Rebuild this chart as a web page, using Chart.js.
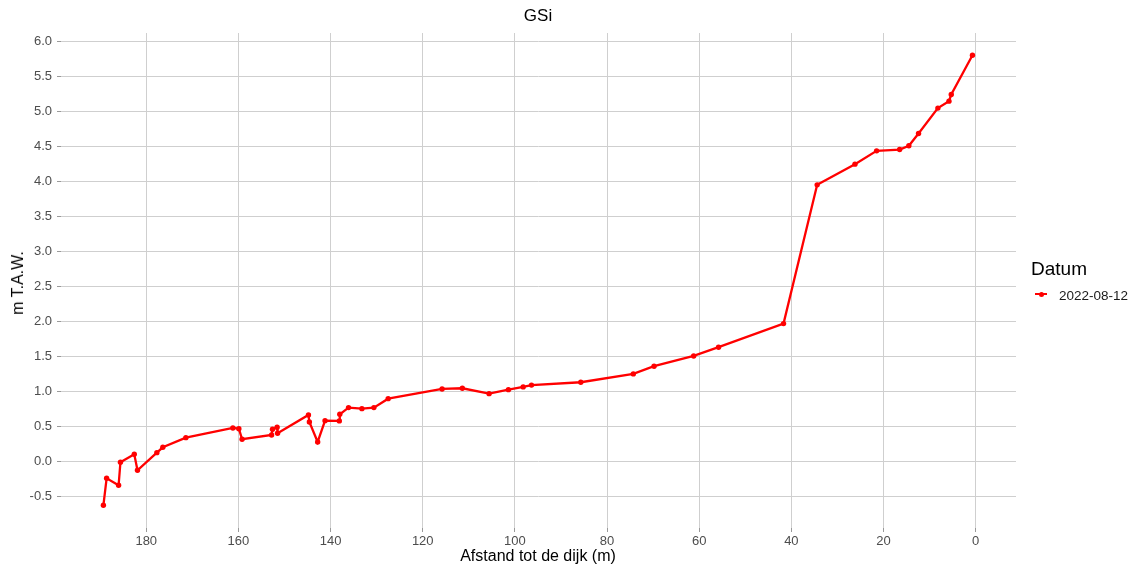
<!DOCTYPE html>
<html>
<head>
<meta charset="utf-8">
<title>GSi</title>
<script src="https://cdn.jsdelivr.net/npm/chart.js@4/dist/chart.umd.min.js"></script>
<style>
  html, body { margin: 0; padding: 0; background: #ffffff; }
  #wrap { position: relative; width: 1135px; height: 572px; font-family: "Liberation Sans", Arial, sans-serif; }
  #plot { position: absolute; left: 0; top: 0; }
  .lbl { position: absolute; white-space: nowrap; line-height: 1; color: #000; }
  .c { transform: translate(-50%, -50%); }
  .legend-key { position: absolute; }
</style>
</head>
<body>
<div id="wrap">
  <canvas id="plot" width="1135" height="572"></canvas>
  <div class="lbl c" style="left:538px; top:15px; font-size:17px;">GSi</div>
  <div class="lbl c" style="left:538px; top:556px; font-size:16px;">Afstand tot de dijk (m)</div>
  <div class="lbl c" style="left:18px; top:283px; font-size:16px; transform: translate(-50%, -50%) rotate(-90deg);">m T.A.W.</div>
  <div class="lbl" style="left:1031px; top:259px; font-size:19px;">Datum</div>
  <div class="legend-key" style="left:1035px; top:293px; width:12px; height:2px; background:#ff0000;"></div>
  <div class="legend-key" style="left:1038.5px; top:291.5px; width:5px; height:5px; border-radius:50%; background:#ff0000;"></div>
  <div class="lbl" style="left:1059px; top:289px; font-size:13.5px; color:#1a1a1a;">2022-08-12</div>
</div>
<script>
// Profile GSi, survey of 2022-08-12: distance to the dike (m) and height (m T.A.W.)
const distances = [
  189.3, 188.6, 186.0, 185.6, 182.6, 181.9, 177.7, 176.4, 171.4, 161.2,
  159.9, 159.2, 152.8, 152.6, 151.6, 151.5, 144.8, 144.6, 142.8, 141.2,
  138.1, 138.0, 136.1, 133.2, 130.6, 127.5, 115.8, 111.4, 105.6, 101.4,
  98.2, 96.4, 85.7, 74.3, 69.8, 61.2, 55.8, 41.7, 34.4, 26.2,
  21.5, 16.5, 14.5, 12.4, 8.2, 5.8, 5.3, 0.7
];
const heights = [
  -0.632, -0.246, -0.346, -0.017, 0.097, -0.132, 0.120, 0.197, 0.335, 0.473,
  0.463, 0.312, 0.373, 0.455, 0.483, 0.398, 0.659, 0.559, 0.273, 0.578,
  0.574, 0.669, 0.764, 0.749, 0.764, 0.892, 1.031, 1.041, 0.964, 1.021,
  1.060, 1.086, 1.127, 1.246, 1.356, 1.503, 1.628, 1.965, 3.949, 4.245,
  4.435, 4.454, 4.507, 4.683, 5.046, 5.146, 5.240, 5.801
];
const seriesLabel = '2022-08-12';
const xTicks = [0, 20, 40, 60, 80, 100, 120, 140, 160, 180];
const yTicks = [-0.5, 0, 0.5, 1, 1.5, 2, 2.5, 3, 3.5, 4, 4.5, 5, 5.5, 6];

const points = distances.map((d, i) => ({ x: d, y: heights[i] }));

const tickFont = { family: '"Liberation Sans", Arial, sans-serif', size: 13 };
const gridColor = '#cfcfcf';

new Chart(document.getElementById('plot'), {
  type: 'line',
  data: {
    datasets: [{
      label: seriesLabel,
      data: points,
      borderColor: '#ff0000',
      backgroundColor: '#ff0000',
      borderWidth: 2.3,
      pointRadius: 2.7,
      pointBorderWidth: 0,
      pointBackgroundColor: '#ff0000',
      fill: false,
      tension: 0
    }]
  },
  options: {
    responsive: false,
    animation: false,
    layout: { padding: { top: 33, right: 119, bottom: 0, left: 0 } },
    plugins: {
      legend: { display: false },
      title: { display: false },
      tooltip: { enabled: false }
    },
    scales: {
      x: {
        type: 'linear',
        reverse: true,
        min: -8.75,
        max: 198.5,
        afterBuildTicks: s => { s.ticks = xTicks.map(v => ({ value: v })); },
        afterFit: s => { s.height = 44; },
        ticks: {
          font: tickFont,
          color: '#4d4d4d',
          padding: 2,
          maxRotation: 0,
          autoSkip: false,
          callback: v => String(v)
        },
        grid: { color: gridColor, lineWidth: 1, tickLength: 4, tickColor: '#9a9a9a' },
        border: { display: false }
      },
      y: {
        type: 'linear',
        min: -0.957,
        max: 6.12,
        afterBuildTicks: s => { s.ticks = yTicks.map(v => ({ value: v })); },
        afterFit: s => { s.width = 61; },
        ticks: {
          font: tickFont,
          color: '#4d4d4d',
          padding: 5,
          autoSkip: false,
          callback: v => v.toFixed(1)
        },
        grid: { color: gridColor, lineWidth: 1, tickLength: 4, tickColor: '#9a9a9a' },
        border: { display: false }
      }
    }
  }
});
</script>
</body>
</html>
